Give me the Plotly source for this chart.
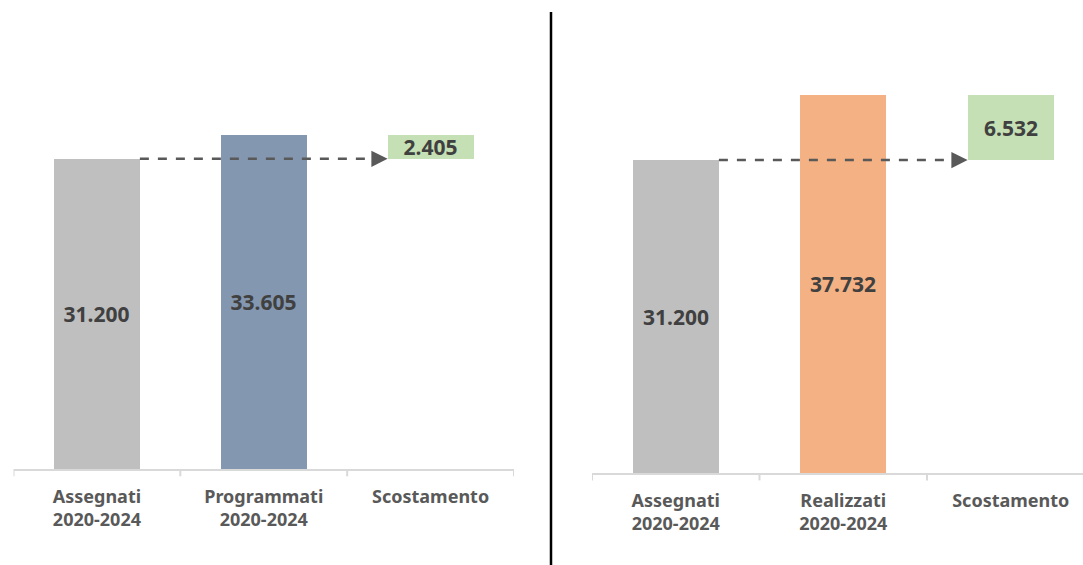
import plotly.graph_objects as go
from plotly.subplots import make_subplots

# left panel
left_cats = ["Assegnati<br>2020-2024", "Programmati<br>2020-2024", "Scostamento"]
left_assegnati = 31.200
left_programmati = 33.605
left_scost = 2.405

# right panel
right_cats = ["Assegnati<br>2020-2024", "Realizzati<br>2020-2024", "Scostamento"]
right_assegnati = 31.200
right_realizzati = 37.732
right_scost = 6.532

GRAY = "#bfbfbf"
BLUE = "#8497b0"
ORANGE = "#f4b183"
GREEN = "#c5e0b4"
TXT = "#404040"
AX = "#d9d9d9"
FONT = "Noto Sans"

W, H = 1083, 565
BW = 0.515


def fmt(v):
    return f"{v:.3f}"


fig = make_subplots(rows=1, cols=2)

panels = [
    (1, left_cats, left_assegnati, left_programmati, left_scost, BLUE),
    (2, right_cats, right_assegnati, right_realizzati, right_scost, ORANGE),
]

for col, cats, base_v, second_v, diff_v, col2 in panels:
    fig.add_trace(go.Bar(
        x=[0, 1, 2],
        y=[base_v, second_v, diff_v],
        base=[0, 0, base_v],
        width=BW,
        marker=dict(color=[GRAY, col2, GREEN], line=dict(width=0)),
        text=[fmt(base_v), fmt(second_v), fmt(diff_v)],
        textposition="inside",
        insidetextanchor="middle",
        textangle=0,
        textfont=dict(family=FONT, size=21, color=TXT, weight="bold"),
        showlegend=False,
        hoverinfo="skip",
    ), row=1, col=col)

    xr = "x" if col == 1 else "x2"
    yr = "y" if col == 1 else "y2"
    # dashed connector
    fig.add_shape(type="line", xref=xr, yref=yr,
                  x0=BW / 2, x1=2 - BW / 2 - 0.07, y0=base_v, y1=base_v,
                  line=dict(color="#595959", width=2.5, dash="dash"))
    fig.add_annotation(xref=xr, yref=yr, x=2 - BW / 2, y=base_v,
                       ax=-14, ay=0, text="", showarrow=True,
                       arrowhead=2, arrowsize=1.3, arrowwidth=2.5,
                       arrowcolor="#595959", standoff=0)

    fig.update_xaxes(
        row=1, col=col,
        tickmode="array", tickvals=[-0.5, 0, 0.5, 1, 1.5, 2, 2.5],
        ticktext=["", cats[0], "", cats[1], "", cats[2], ""],
        showline=True, linecolor=AX, linewidth=2,
        ticks="", showgrid=False, zeroline=False,
        ticklabelstandoff=10,
        tickfont=dict(family=FONT, size=18, color="#595959", weight="bold"),
        fixedrange=True,
    )
    fig.update_yaxes(row=1, col=col, visible=False, fixedrange=True)

# boundary tick marks
for col in (1, 2):
    xr = "x" if col == 1 else "x2"
    yr = "y domain" if col == 1 else "y2 domain"
    for b in (-0.5, 0.5, 1.5, 2.5):
        fig.add_shape(type="line", xref=xr, yref=yr, x0=b, x1=b,
                      y0=0, y1=-0.016, line=dict(color=AX, width=2))

left_base = 469
right_base = 473
top = 12
fig.update_layout(
    xaxis=dict(domain=[13.5 / W, 514 / W], range=[-0.5, 2.5]),
    xaxis2=dict(domain=[592 / W, 1.0], range=[-0.5, -0.5 + (W - 592) / 167.5]),
    yaxis=dict(domain=[1 - left_base / H, 1 - top / H],
               range=[0, (left_base - top) / 9.94]),
    yaxis2=dict(domain=[1 - right_base / H, 1 - top / H],
                range=[0, (right_base - top) / 10.03]),
    width=W, height=H,
    margin=dict(l=0, r=0, t=0, b=0),
    paper_bgcolor="white", plot_bgcolor="white",
    uniformtext=dict(minsize=21, mode="show"),
    bargap=0,
)

# divider between panels
fig.add_shape(type="line", xref="paper", yref="paper",
              x0=551 / W, x1=551 / W, y0=0, y1=1 - 12 / H,
              line=dict(color="black", width=2.5))

fig.write_html("out.html", config={"displayModeBar": False},
               post_script="document.body.style.margin='0px';")
